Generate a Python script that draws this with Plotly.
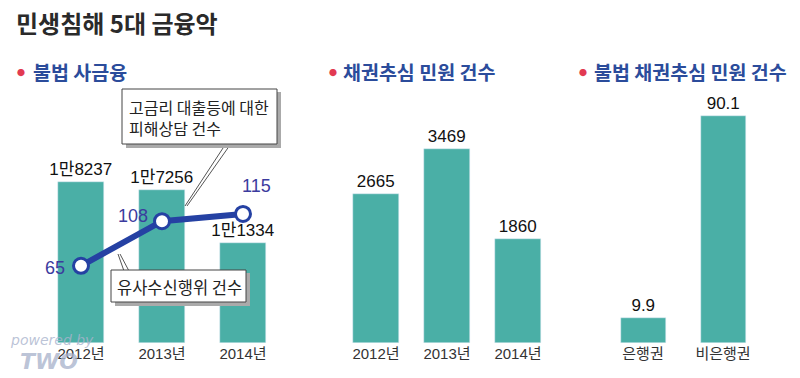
import plotly.graph_objects as go

# ---- data ----
years = ["2012년", "2013년", "2014년"]
loan_cases = [18237, 17256, 11334]            # 고금리 대출등에 대한 피해상담 건수
loan_labels = ["1만8237", "1만7256", "1만1334"]
deposit_cases = [65, 108, 115]                # 유사수신행위 건수
collection_cases = [2665, 3469, 1860]         # 채권추심 민원 건수
illegal_cats = ["은행권", "비은행권"]
illegal_share = [9.9, 90.1]                   # 불법 채권추심 민원 건수

# page body has an 8px margin: draw the figure 16px smaller and map reference pixels
OFF = 8
W, H = 784, 362
def px(x): return (x - OFF) / W
def py(y): return 1 - (y - OFF) / H

TEAL = "#4aafa6"
BLUE = "#2541a3"
LBL = "#3b3b9e"
NUM_FONT = "Liberation Sans Narrow, Liberation Sans, Arial, Noto Sans CJK KR, sans-serif"
KR = "Noto Sans CJK KR, sans-serif"

fig = go.Figure()

bar_common = dict(marker_color=TEAL, textposition="outside", constraintext="none",
                  cliponaxis=False, hoverinfo="skip", showlegend=False,
                  textfont=dict(family=NUM_FONT, size=17, color="#111"))

fig.add_bar(x=years, y=loan_cases, text=loan_labels, width=0.57,
            xaxis="x", yaxis="y", **bar_common)
fig.add_scatter(x=years, y=deposit_cases, mode="lines+markers",
                line=dict(color=BLUE, width=6),
                marker=dict(size=15, color="white", line=dict(color=BLUE, width=3)),
                xaxis="x", yaxis="y4", cliponaxis=False, hoverinfo="skip", showlegend=False)
fig.add_bar(x=years, y=collection_cases, text=[str(v) for v in collection_cases], width=0.65,
            xaxis="x2", yaxis="y2", **bar_common)
fig.add_bar(x=illegal_cats, y=illegal_share, text=[f"{v:.1f}" for v in illegal_share], width=0.5625,
            xaxis="x3", yaxis="y3", **bar_common)

def xaxis_for(d0, d1, first_center, step):
    r0 = -(first_center - d0) / step
    r1 = r0 + (d1 - d0) / step
    return dict(domain=[px(d0), px(d1)], range=[r0, r1])

ydom = [py(343), py(90)]
xcommon = dict(showgrid=False, zeroline=False, showline=False, ticks="",
               tickfont=dict(family=NUM_FONT, size=15, color="#333"), fixedrange=True)
ycommon = dict(showgrid=False, zeroline=False, showline=False, showticklabels=False,
               ticks="", fixedrange=True)

fig.update_layout(
    width=W, height=H, margin=dict(l=0, r=0, t=0, b=0),
    paper_bgcolor="white", plot_bgcolor="white", bargap=0,
    xaxis=dict(anchor="y", **xaxis_for(8, 320, 81, 81), **xcommon),
    xaxis2=dict(anchor="y2", **xaxis_for(320, 552, 376, 71), **xcommon),
    xaxis3=dict(anchor="y3", **xaxis_for(552, 792, 643, 80),
                **{**xcommon, "tickfont": dict(family=KR, size=15, color="#333")}),
    yaxis=dict(domain=ydom, range=[0, 28620], anchor="x", **ycommon),
    yaxis4=dict(overlaying="y", range=[-9.43, 234.5], anchor="x", side="right", **ycommon),
    yaxis2=dict(domain=ydom, range=[0, 4522], anchor="x2", **ycommon),
    yaxis3=dict(domain=ydom, range=[0, 100.4], anchor="x3", **ycommon),
)

ann = []
# title
ann.append(dict(x=px(14), y=py(23), xref="paper", yref="paper", xanchor="left", yanchor="middle",
                text="<b>민생침해 5대 금융악</b>", showarrow=False,
                font=dict(family=KR, size=24, color="#2a2a2a")))
# subtitles
for xd, xt, t in [(21, 31, "불법 사금융"), (333, 341, "채권추심 민원 건수"), (583, 592, "불법 채권추심 민원 건수")]:
    ann.append(dict(x=px(xd), y=py(72), xref="paper", yref="paper", xanchor="center", yanchor="middle",
                    text="●", showarrow=False, font=dict(family=KR, size=8, color="#e23a52")))
    ann.append(dict(x=px(xt), y=py(71), xref="paper", yref="paper", xanchor="left", yanchor="middle",
                    text=f"<b>{t}</b>", showarrow=False,
                    font=dict(family=KR, size=19.5, color="#2b4c9b")))
# line value labels
shifts = [(-14, -2, "right"), (-12, 5, "right"), (13, 28, "center")]
for xv, yv, (dx, dy, xa) in zip(years, deposit_cases, shifts):
    ann.append(dict(x=xv, y=yv, xref="x", yref="y4", text=str(yv), showarrow=False,
                    xanchor=xa, yanchor="middle", xshift=dx, yshift=dy,
                    font=dict(family=NUM_FONT, size=18, color=LBL)))
# callout texts
ann.append(dict(x=px(127), y=py(117), xref="paper", yref="paper", xanchor="left", yanchor="middle",
                text="고금리 대출등에 대한<br>피해상담 건수", align="left", showarrow=False,
                font=dict(family=KR, size=16, color="#222")))
ann.append(dict(x=px(179), y=py(287), xref="paper", yref="paper", xanchor="center", yanchor="middle",
                text="유사수신행위 건수", showarrow=False,
                font=dict(family=KR, size=16.5, color="#222")))
# watermark
ann.append(dict(x=px(8), y=py(340), xref="paper", yref="paper", xanchor="left", yanchor="middle",
                text="<i>powered by</i>", showarrow=False,
                font=dict(family="DejaVu Sans, sans-serif", size=14, color="rgba(170,180,205,0.8)")))
ann.append(dict(x=px(18), y=py(361), xref="paper", yref="paper", xanchor="left", yanchor="middle",
                text="<b><i>TWO</i></b>", showarrow=False,
                font=dict(family="DejaVu Sans, sans-serif", size=22, color="rgba(170,180,205,0.8)")))

shapes = []
def rect(x0, y0, x1, y1, fill, line):
    shapes.append(dict(type="rect", xref="paper", yref="paper",
                       x0=px(x0), x1=px(x1), y0=py(y1), y1=py(y0),
                       fillcolor=fill, line=dict(color=line, width=1 if line != fill else 0)))
def seg(x0, y0, x1, y1, c="#555", w=1):
    shapes.append(dict(type="line", xref="paper", yref="paper",
                       x0=px(x0), x1=px(x1), y0=py(y0), y1=py(y1), line=dict(color=c, width=w)))

# leader lines
seg(225, 145, 185, 206)
seg(230, 145, 187, 206)
seg(124, 271, 118, 254)
seg(129, 271, 120, 254)
# callout boxes with shadow
rect(126, 92, 281, 148, "#aaaaaa", "#aaaaaa")
rect(122, 89, 277, 144, "white", "#444")
rect(115, 273, 250, 306, "#aaaaaa", "#aaaaaa")
rect(111, 270, 246, 302, "white", "#444")

fig.update_layout(annotations=ann, shapes=shapes)
fig.write_html("out.html")
